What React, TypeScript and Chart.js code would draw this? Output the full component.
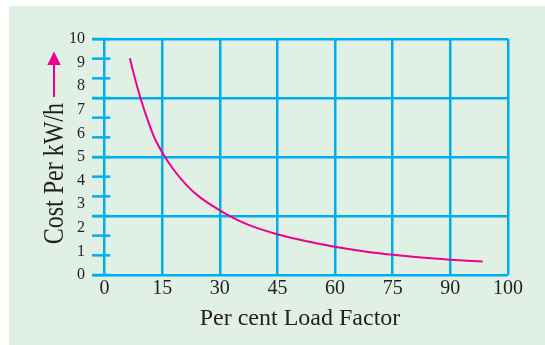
import React, { useEffect, useRef } from 'react';
import { Chart, registerables } from 'chart.js';

Chart.register(...registerables);

// Data (x positions in axis units where the last grid column is labelled "100")
const LOAD_FACTOR = [6.6, 7.9, 9.4, 11, 12.7, 15, 17.9, 21.4, 24.8, 29.8, 33.5, 37.8, 44.9, 52.6, 59.9, 68.2, 75, 82.5, 89.9, 98.4];
const COST = [9.18, 8.35, 7.48, 6.68, 5.93, 5.2, 4.48, 3.8, 3.3, 2.76, 2.42, 2.1, 1.73, 1.43, 1.2, 0.99, 0.86, 0.74, 0.65, 0.57];

const X_TICKS = [0, 15, 30, 45, 60, 75, 90, 105];
const X_LABELS = ['0', '15', '30', '45', '60', '75', '90', '100'];
const Y_TICKS = [0, 1, 2, 2.5, 3, 4, 5, 6, 7, 7.5, 8, 9, 10];
const Y_GRID = [0, 2.5, 5, 7.5, 10];
const Y_MINOR_TICKS = [0, 0.833, 1.667, 2.5, 3.333, 4.167, 5, 5.833, 6.667, 7.5, 8.333, 9.167, 10];

const X_TITLE = 'Per cent Load Factor';
const Y_TITLE = 'Cost Per kW/h';

const BG = '#e1f0e5';
const GRID = '#00aeef';
const CURVE = '#ec008c';
const TEXT = '#231f20';
const FONT = '"Liberation Serif", "Times New Roman", serif';

const decorPlugin = {
  id: 'decor',
  beforeDatasetsDraw(chart: any) {
    const { ctx, chartArea, scales } = chart;
    const x = scales.x;
    const y = scales.y;
    ctx.save();
    ctx.strokeStyle = GRID;
    ctx.lineWidth = 2.5;
    const x0 = chartArea.left;
    const x1 = x.getPixelForValue(1.5);
    Y_MINOR_TICKS.forEach((v) => {
      const py = y.getPixelForValue(v);
      ctx.beginPath();
      ctx.moveTo(x0, py);
      ctx.lineTo(x1, py);
      ctx.stroke();
    });
    ctx.restore();
  },
  afterDraw(chart: any) {
    const { ctx } = chart;
    ctx.save();
    // y-axis title (vertically stretched serif text)
    ctx.translate(54, 97);
    ctx.rotate(-Math.PI / 2);
    ctx.scale(1, 1.25);
    ctx.fillStyle = TEXT;
    ctx.font = `24px ${FONT}`;
    ctx.textAlign = 'right';
    ctx.textBaseline = 'alphabetic';
    ctx.fillText(Y_TITLE, 0, 0);
    ctx.restore();

    // arrow
    ctx.save();
    ctx.strokeStyle = CURVE;
    ctx.fillStyle = CURVE;
    ctx.lineWidth = 2;
    ctx.beginPath();
    ctx.moveTo(45, 91);
    ctx.lineTo(45, 58);
    ctx.stroke();
    ctx.beginPath();
    ctx.moveTo(45, 45.5);
    ctx.lineTo(38.3, 59);
    ctx.lineTo(51.7, 59);
    ctx.closePath();
    ctx.fill();
    ctx.restore();
  },
};

export default function App() {
  const ref = useRef<HTMLCanvasElement | null>(null);

  useEffect(() => {
    if (!ref.current) return;
    const chart = new Chart(ref.current, {
      type: 'line',
      data: {
        datasets: [
          {
            data: LOAD_FACTOR.map((v, i) => ({ x: v, y: COST[i] })),
            borderColor: CURVE,
            borderWidth: 2,
            pointRadius: 0,
            cubicInterpolationMode: 'monotone',
            fill: false,
          },
        ],
      },
      options: {
        animation: false,
        responsive: false,
        events: [],
        layout: { padding: { top: 33, right: 37, left: 0, bottom: 0 } },
        plugins: {
          legend: { display: false },
          tooltip: { enabled: false },
          title: { display: false },
        },
        scales: {
          x: {
            type: 'linear',
            min: -3.25,
            max: 105,
            afterBuildTicks: (scale: any) => {
              scale.ticks = X_TICKS.map((v) => ({ value: v }));
            },
            afterFit: (scale: any) => {
              scale.height = 70;
            },
            ticks: {
              autoSkip: false,
              maxRotation: 0,
              padding: 2,
              color: TEXT,
              font: { family: FONT, size: 20 },
              callback: (_v: any, i: number) => X_LABELS[i],
            },
            grid: { color: GRID, lineWidth: 2.5, drawTicks: false },
            border: { display: false },
            title: {
              display: true,
              text: X_TITLE,
              color: TEXT,
              font: { family: FONT, size: 24 },
              padding: { top: 0, bottom: 12 },
            },
          },
          y: {
            type: 'linear',
            min: 0,
            max: 10,
            afterBuildTicks: (scale: any) => {
              scale.ticks = Y_TICKS.map((v) => ({ value: v }));
            },
            afterFit: (scale: any) => {
              scale.width = 83;
            },
            ticks: {
              autoSkip: false,
              padding: 7,
              color: TEXT,
              font: { family: FONT, size: 16 },
              callback: (v: any) => (Number.isInteger(v) ? String(v) : ''),
            },
            grid: {
              color: (c: any) => (c.tick && Y_GRID.includes(c.tick.value) ? GRID : 'rgba(0,0,0,0)'),
              lineWidth: 2.5,
              drawTicks: false,
            },
            border: { display: false },
          },
        },
      },
      plugins: [decorPlugin],
    } as any);
    return () => chart.destroy();
  }, []);

  return (
    <div
      style={{
        position: 'absolute',
        left: 9,
        top: 6,
        width: 536,
        height: 339,
        background: BG,
      }}
    >
      <canvas ref={ref} width={536} height={339} style={{ display: 'block', width: 536, height: 339 }} />
    </div>
  );
}
